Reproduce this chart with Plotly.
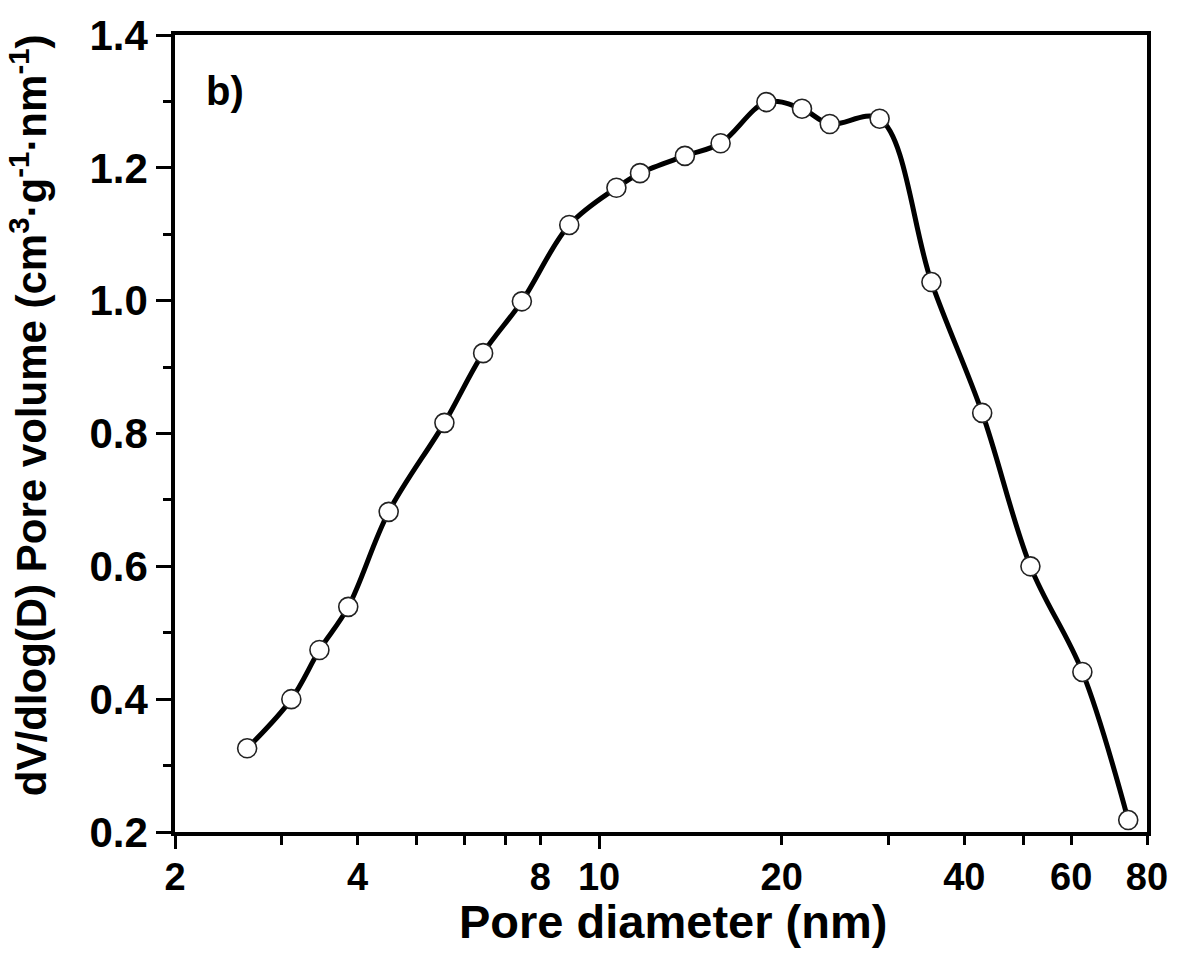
import plotly.graph_objects as go

pore_diameter_nm = [2.63, 3.11, 3.46, 3.86, 4.50, 5.56, 6.44, 7.46, 8.93, 10.68, 11.68,
                    13.85, 15.86, 18.87, 21.6, 24.0, 29.0, 35.3, 42.8, 51.4, 62.6, 74.5]
dv_dlogd = [0.326, 0.400, 0.474, 0.539, 0.682, 0.816, 0.921, 0.999, 1.114, 1.170, 1.192,
            1.218, 1.237, 1.299, 1.289, 1.266, 1.274, 1.028, 0.831, 0.600, 0.441, 0.218]

x_tickvals = [2, 4, 8, 10, 20, 40, 60, 80]
x_ticktext = ["2", "4", "8", "10", "20", "40", "60", "80"]
x_minor_vals = [3, 5, 6, 7, 30, 50]
x_long_ticks = [2, 10]
y_tickvals = [0.2, 0.4, 0.6, 0.8, 1.0, 1.2, 1.4]
y_ticktext = ["0.2", "0.4", "0.6", "0.8", "1.0", "1.2", "1.4"]

x_title = "Pore diameter (nm)"
y_title = "dV/dlog(D) Pore volume (cm<sup>3</sup>·g<sup>-1</sup>·nm<sup>-1</sup>)"
panel_label = "b)"

FONT = "Liberation Sans, Arial, sans-serif"

fig = go.Figure()
fig.add_trace(go.Scatter(
    x=pore_diameter_nm, y=dv_dlogd, mode="lines+markers",
    line=dict(color="black", width=5, shape="spline", smoothing=1.0),
    marker=dict(size=19, color="white", line=dict(color="#222222", width=1.6)),
    showlegend=False,
))
# invisible trace to anchor the secondary axis that draws the longer ticks
fig.add_trace(go.Scatter(x=[pore_diameter_nm[0]], y=[dv_dlogd[0]], xaxis="x2",
                         mode="markers", marker=dict(opacity=0), showlegend=False,
                         hoverinfo="skip"))

fig.update_layout(
    width=1180, height=962,
    margin=dict(l=175, r=27, t=35, b=130),
    plot_bgcolor="white", paper_bgcolor="white",
    font=dict(family=FONT, color="black", weight="bold"),
    xaxis=dict(
        type="log", range=[0.30103, 1.90309],
        tickmode="array", tickvals=x_tickvals, ticktext=x_ticktext,
        ticks="outside", ticklen=9, tickwidth=3, tickcolor="black",
        showline=True, linewidth=3.5, linecolor="black", mirror=True,
        showgrid=False, zeroline=False,
        tickfont=dict(size=38, family=FONT, weight="bold"),
        minor=dict(tickmode="array", tickvals=x_minor_vals, ticks="outside",
                   ticklen=9, tickwidth=3, tickcolor="black", showgrid=False),
    ),
    xaxis2=dict(
        type="log", range=[0.30103, 1.90309], overlaying="x", side="bottom",
        anchor="y", tickmode="array", tickvals=x_long_ticks, showticklabels=False,
        ticks="outside", ticklen=16, tickwidth=3, tickcolor="black",
        showline=False, showgrid=False, zeroline=False,
    ),
    yaxis=dict(
        range=[0.2, 1.4],
        tickmode="array", tickvals=y_tickvals, ticktext=y_ticktext,
        ticks="outside", ticklen=15, tickwidth=3, tickcolor="black",
        showline=True, linewidth=3.5, linecolor="black", mirror=True,
        showgrid=False, zeroline=False,
        tickfont=dict(size=42, family=FONT, weight="bold"),
        minor=dict(dtick=0.1, tick0=0.2, ticks="outside", ticklen=8, tickwidth=3,
                   tickcolor="black", showgrid=False),
    ),
    annotations=[
        dict(text=panel_label, xref="paper", yref="paper", x=0.03, y=0.96,
             xanchor="left", yanchor="top", showarrow=False,
             font=dict(size=40, family=FONT, weight="bold")),
        dict(text=x_title, xref="paper", yref="paper", x=0.512, y=0,
             xanchor="center", yanchor="middle", yshift=-89, showarrow=False,
             font=dict(size=47, family=FONT, weight="bold")),
        dict(text=y_title, xref="paper", yref="paper", x=0, y=0.523,
             xanchor="center", yanchor="middle", xshift=-146, textangle=-90,
             showarrow=False, font=dict(size=42, family=FONT, weight="bold")),
    ],
)

fig.write_html("out.html")
